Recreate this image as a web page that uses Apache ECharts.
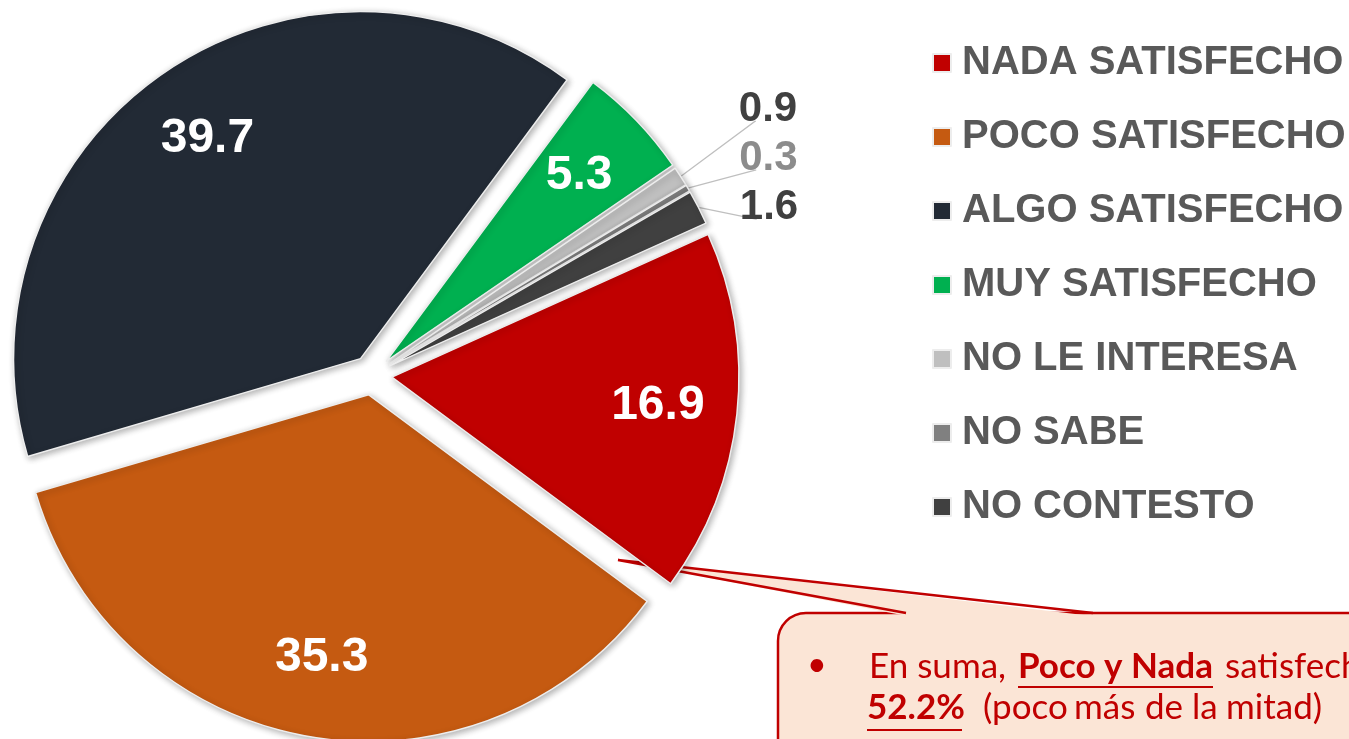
<!DOCTYPE html>
<html>
<head>
<meta charset="utf-8">
<script src="https://cdn.jsdelivr.net/npm/echarts@6/dist/echarts.min.js"></script>
<style>
html,body{margin:0;padding:0;background:#fff;}
#chart{width:1349px;height:739px;}
</style>
</head>
<body>
<div id="chart"></div>
<script>
// ---- data ----
const categories = ['NADA SATISFECHO','POCO SATISFECHO','ALGO SATISFECHO','MUY SATISFECHO','NO LE INTERESA','NO SABE','NO CONTESTO'];
const values = [16.9, 35.3, 39.7, 5.3, 0.9, 0.3, 1.6];
const colors = ['#C00000','#C55A11','#222A35','#00B050','#BFBFBF','#808080','#404040'];
const smallLabelColors = ['#404040','#404040','#404040','#404040','#404040','#8C8C8C','#404040'];

const chart = echarts.init(document.getElementById('chart'), null, {renderer:'canvas'});

const CENTER = [372, 375];
const R = 347;
const OFFSET = 20;
const START = 24.3;
const BIG = 3;
const SMALL_LINE_END_X = 739;
const SMALL_LABEL_DX_ADJ = -20;
const SMALL_LABEL_SHIFT = -54;

const mainData = categories.map((name, i) => ({
  name: name,
  value: values[i],
  selected: true,
  itemStyle: {color: colors[i]},
  label: {
    show: values[i] < BIG,
    color: smallLabelColors[i]
  },
  labelLine: {show: values[i] < BIG}
}));

const ringData = categories.map((name, i) => ({
  name: name,
  value: values[i],
  selected: true,
  label: {show: values[i] >= BIG}
}));

const font = 'Liberation Sans, Arial, sans-serif';
const calloutFont = 'Lato, Open Sans, sans-serif';
const red = '#C00000';
const peach = '#FBE5D6';

const option = {
  animation: false,
  backgroundColor: '#ffffff',
  legend: {
    orient: 'vertical',
    left: 932,
    top: 43,
    padding: 0,
    itemWidth: 18,
    itemHeight: 18,
    itemGap: 34,
    icon: 'rect',
    selectedMode: false,
    data: categories,
    textStyle: {
      fontFamily: font,
      fontWeight: 'bold',
      fontSize: 40,
      lineHeight: 40,
      color: '#595959',
      padding: [0, 0, 0, 6]
    }
  },
  graphic: [
    {
      type: 'rect', z: 0,
      shape: {x: 778, y: 613, width: 600, height: 160, r: [28, 0, 0, 0]},
      style: {fill: peach, stroke: red, lineWidth: 2.5}
    },
    {
      type: 'polygon', z: 0,
      shape: {points: [[618, 560], [907, 616], [1092, 616]]},
      style: {fill: peach}
    },
    {
      type: 'polyline', z: 0,
      shape: {points: [[906, 613], [618, 560], [1093, 613]]},
      style: {stroke: red, lineWidth: 2.5, fill: null}
    },
    {type:'text', z:1, left: 807, top: 648, style:{text:'•', font:'34px ' + calloutFont, fill: red}},
    {type:'text', z:1, left: 869, top: 649, style:{text:'En suma,', font:'35px ' + calloutFont, fill: red}},
    {type:'text', z:1, left: 1018, top: 649, style:{text:'Poco y Nada', font:'bold 35px ' + calloutFont, fill: red}},
    {type:'line', z:1, shape:{x1:1018, y1:687, x2:1213, y2:687}, style:{stroke: red, lineWidth: 2}},
    {type:'text', z:1, left: 1225, top: 649, style:{text:'satisfechos suman', font:'35px ' + calloutFont, fill: red}},
    {type:'text', z:1, left: 867, top: 690, style:{text:'52.2%', font:'bold 35px ' + calloutFont, fill: red}},
    {type:'line', z:1, shape:{x1:867, y1:730, x2:962, y2:730}, style:{stroke: red, lineWidth: 2}},
    {type:'text', z:1, left: 983, top: 690, style:{text:'(poco', font:'35px ' + calloutFont, fill: red}},
    {type:'text', z:1, left: 1074, top: 690, style:{text:'más', font:'35px ' + calloutFont, fill: red}},
    {type:'text', z:1, left: 1145, top: 690, style:{text:'de', font:'35px ' + calloutFont, fill: red}},
    {type:'text', z:1, left: 1192, top: 690, style:{text:'la', font:'35px ' + calloutFont, fill: red}},
    {type:'text', z:1, left: 1226, top: 690, style:{text:'mitad)', font:'35px ' + calloutFont, fill: red}}
  ],
  series: [
    {
      type: 'pie',
      z: 3,
      center: CENTER,
      radius: [0, R],
      startAngle: START,
      clockwise: true,
      selectedMode: 'multiple',
      selectedOffset: OFFSET,
      avoidLabelOverlap: true,
      silent: true,
      itemStyle: {
        borderColor: '#EDEDED',
        borderWidth: 1.5,
        shadowBlur: 6,
        shadowColor: 'rgba(0,0,0,0.3)',
        shadowOffsetX: 2,
        shadowOffsetY: 2
      },
      select: {itemStyle: {borderColor: '#EDEDED', borderWidth: 1.5}},
      emphasis: {disabled: true},
      label: {
        position: 'outside',
        formatter: p => p.value.toFixed(1),
        fontFamily: font,
        fontWeight: 'bold',
        fontSize: 42,
        lineHeight: 46
      },
      labelLayout: function (p) {
        const pts = p.labelLinePoints;
        if (!pts) return {};
        const cy = p.labelRect.y + p.labelRect.height / 2 + SMALL_LABEL_SHIFT;
        const endY = cy + 12;
        return {
          dx: SMALL_LINE_END_X + 3 + SMALL_LABEL_DX_ADJ - p.labelRect.x,
          dy: SMALL_LABEL_SHIFT,
          labelLinePoints: [pts[0], [SMALL_LINE_END_X - 1, endY], [SMALL_LINE_END_X, endY]]
        };
      },
      labelLine: {
        length: 24,
        length2: 4,
        lineStyle: {color: '#BFBFBF', width: 1.2}
      },
      data: mainData
    },
    {
      type: 'pie',
      z: 4,
      center: CENTER,
      radius: [182, R],
      startAngle: START,
      clockwise: true,
      selectedMode: 'multiple',
      selectedOffset: OFFSET,
      silent: true,
      itemStyle: {color: 'rgba(0,0,0,0)', borderWidth: 0},
      select: {itemStyle: {color: 'rgba(0,0,0,0)', borderWidth: 0}},
      emphasis: {disabled: true},
      label: {
        position: 'inside',
        formatter: p => p.value.toFixed(1),
        color: '#ffffff',
        fontFamily: font,
        fontWeight: 'bold',
        fontSize: 48
      },
      labelLine: {show: false},
      data: ringData
    }
  ]
};
chart.setOption(option);
</script>
</body>
</html>
